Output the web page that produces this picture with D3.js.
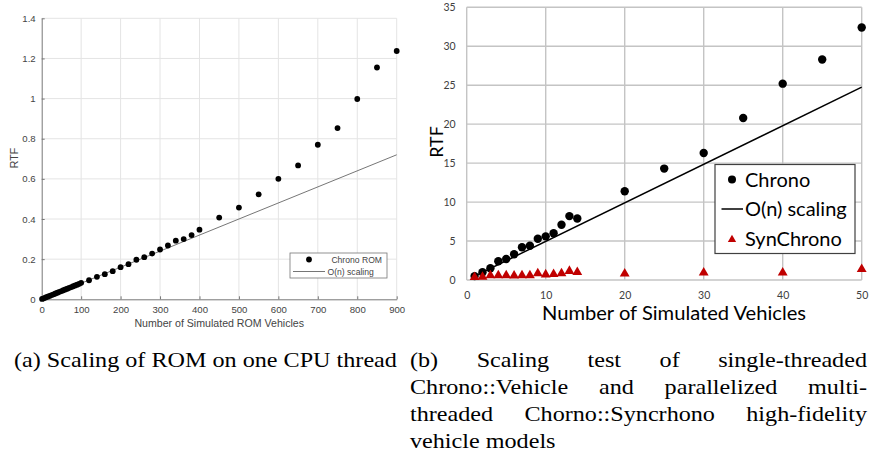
<!DOCTYPE html>
<html>
<head>
<meta charset="utf-8">
<style>
  body { margin: 0; background: #fff; }
  svg { display: block; }
</style>
<script src="https://cdn.jsdelivr.net/npm/d3@7"></script>
</head>
<body>
<script>

/* (a) ROM scaling on one CPU thread */
var romVehicles = [1, 5, 10, 15, 20, 25, 30, 35, 40, 45, 50, 55, 60, 65, 70, 75, 80, 85, 90, 95, 100,
                   120, 140, 160, 180, 200, 220, 240, 260, 280, 300, 320, 340, 360, 380, 400,
                   450, 500, 550, 600, 650, 700, 750, 800, 850, 900];
var romRtf = [0.002, 0.005, 0.009, 0.013, 0.017, 0.021, 0.025, 0.029, 0.033, 0.037, 0.041, 0.045, 0.049, 0.053, 0.057, 0.061, 0.065, 0.069, 0.073, 0.077, 0.082,
              0.095, 0.112, 0.125, 0.14, 0.16, 0.175, 0.197, 0.21, 0.228, 0.248, 0.268, 0.292, 0.30, 0.32, 0.347,
              0.407, 0.457, 0.523, 0.60, 0.667, 0.77, 0.853, 0.998, 1.155, 1.237];
var romScalingX = [0, 900];
var romScalingY = [0, 0.72];
var romXTicks = [0, 100, 200, 300, 400, 500, 600, 700, 800, 900];
var romYTicks = [0, 0.2, 0.4, 0.6, 0.8, 1, 1.2, 1.4];

/* (b) Chrono vs SynChrono */
var chronoVehicles = [1, 2, 3, 4, 5, 6, 7, 8, 9, 10, 11, 12, 13, 14, 20, 25, 30, 35, 40, 45, 50];
var chronoRtf = [0.5, 1.0, 1.5, 2.4, 2.7, 3.3, 4.2, 4.4, 5.3, 5.6, 6.0, 7.1, 8.2, 7.9, 11.4, 14.3, 16.3, 20.8, 25.2, 28.3, 32.4];
var synVehicles = [1, 2, 3, 4, 5, 6, 7, 8, 9, 10, 11, 12, 13, 14, 20, 30, 40, 50];
var synRtf = [0.35, 0.4, 0.6, 0.6, 0.6, 0.55, 0.6, 0.6, 0.85, 0.7, 0.75, 0.85, 1.15, 1.0, 0.8, 0.95, 0.95, 1.4];
var scalingX = [1, 50];
var scalingY = [0.5, 24.75];
var xTicks = [0, 10, 20, 30, 40, 50];
var yTicks = [0, 5, 10, 15, 20, 25, 30, 35];

var captionA = "(a) Scaling of ROM on one CPU thread";
var captionB = [
  ["(b)", "Scaling", "test", "of", "single-threaded"],
  ["Chrono::Vehicle", "and", "parallelized", "multi-"],
  ["threaded", "Chorno::Syncrhono", "high-fidelity"],
  ["vehicle", "models"]
];

var svg = d3.select("body").append("svg")
  .attr("width", 877)
  .attr("height", 458);

/* ---------- chart (a) ---------- */

var xa = d3.scaleLinear().domain([0, 900]).range([41.7, 396.7]);
var ya = d3.scaleLinear().domain([0, 1.4]).range([299.3, 18.3]);
var fontA = "Liberation Sans, Arial, sans-serif";

var ga = svg.append("g");

// grid
ga.append("g").selectAll("line").data(romXTicks.slice(1)).join("line")
  .attr("x1", d => xa(d)).attr("x2", d => xa(d))
  .attr("y1", ya(0)).attr("y2", ya(1.4))
  .style("stroke", "#e4e4e4").style("stroke-width", 1);
ga.append("g").selectAll("line").data(romYTicks.slice(1)).join("line")
  .attr("x1", xa(0)).attr("x2", xa(900))
  .attr("y1", d => ya(d)).attr("y2", d => ya(d))
  .style("stroke", "#e4e4e4").style("stroke-width", 1);

// axes
var axA_x = ga.append("g")
  .attr("transform", "translate(0," + ya(0) + ")")
  .call(d3.axisBottom(xa).tickValues(romXTicks).tickSizeInner(-3).tickSizeOuter(0).tickPadding(7));
var axA_y = ga.append("g")
  .attr("transform", "translate(" + xa(0) + ",0)")
  .call(d3.axisLeft(ya).tickValues(romYTicks).tickSizeInner(-3).tickSizeOuter(0).tickPadding(6).tickFormat(d3.format("")));
[axA_x, axA_y].forEach(function(a) {
  a.select(".domain").style("stroke", "#777");
  a.selectAll(".tick line").style("stroke", "#777");
  a.selectAll(".tick text").style("fill", "#444").style("font-family", fontA).style("font-size", "9.6px");
});

ga.append("text")
  .attr("x", (xa(0) + xa(900)) / 2).attr("y", 327)
  .attr("text-anchor", "middle")
  .style("font-family", fontA).style("font-size", "10.6px").style("fill", "#444")
  .text("Number of Simulated ROM Vehicles");
ga.append("text")
  .attr("transform", "translate(17.5,158) rotate(-90)")
  .attr("text-anchor", "middle")
  .style("font-family", fontA).style("font-size", "10.6px").style("fill", "#444")
  .text("RTF");

// O(n) line
ga.append("line")
  .attr("x1", xa(romScalingX[0])).attr("y1", ya(romScalingY[0]))
  .attr("x2", xa(romScalingX[1])).attr("y2", ya(romScalingY[1]))
  .style("stroke", "#666").style("stroke-width", 0.9);

// points
ga.append("g").selectAll("circle").data(romVehicles).join("circle")
  .attr("cx", d => xa(d))
  .attr("cy", (d, i) => ya(romRtf[i]))
  .attr("r", 2.9)
  .style("fill", "#000");

// legend
var legA = ga.append("g");
legA.append("rect")
  .attr("x", 290).attr("y", 253).attr("width", 97).attr("height", 25)
  .style("fill", "#fff").style("stroke", "#777").style("stroke-width", 0.8);
legA.append("circle").attr("cx", 309).attr("cy", 259.5).attr("r", 2.9).style("fill", "#000");
legA.append("line").attr("x1", 293).attr("x2", 325).attr("y1", 271.5).attr("y2", 271.5)
  .style("stroke", "#666").style("stroke-width", 0.9);
legA.append("text").attr("x", 382).attr("y", 262.5).attr("text-anchor", "end")
  .style("font-family", fontA).style("font-size", "8.6px").style("fill", "#444").text("Chrono ROM");
legA.append("text").attr("x", 327.5).attr("y", 274.5)
  .style("font-family", fontA).style("font-size", "8.6px").style("fill", "#444").text("O(n) scaling");

/* ---------- chart (b) ---------- */

var xb = d3.scaleLinear().domain([0, 50]).range([466.7, 861.7]);
var yb = d3.scaleLinear().domain([0, 35]).range([280, 7.3]);
var fontB = "Lato, 'Open Sans', sans-serif";

var gb = svg.append("g");

gb.append("g").selectAll("line").data(xTicks).join("line")
  .attr("x1", d => xb(d)).attr("x2", d => xb(d))
  .attr("y1", yb(0)).attr("y2", yb(35))
  .style("stroke", "#c4c4c4").style("stroke-width", 1.4);
gb.append("g").selectAll("line").data(yTicks).join("line")
  .attr("x1", xb(0)).attr("x2", xb(50))
  .attr("y1", d => yb(d)).attr("y2", d => yb(d))
  .style("stroke", "#c4c4c4").style("stroke-width", 1.4);

var axB_x = gb.append("g")
  .attr("transform", "translate(0," + yb(0) + ")")
  .call(d3.axisBottom(xb).tickValues(xTicks).tickSize(0).tickPadding(12));
var axB_y = gb.append("g")
  .attr("transform", "translate(" + xb(0) + ",0)")
  .call(d3.axisLeft(yb).tickValues(yTicks).tickSize(0).tickPadding(11));
[axB_x, axB_y].forEach(function(a) {
  a.select(".domain").remove();
  a.selectAll(".tick text").style("fill", "#404040").style("font-family", fontB).style("font-size", "10.5px");
});

gb.append("text")
  .attr("x", 542).attr("y", 320)
  .attr("textLength", 264).attr("lengthAdjust", "spacingAndGlyphs")
  .style("font-family", fontB).style("font-size", "18.5px").style("fill", "#000")
  .text("Number of Simulated Vehicles");
gb.append("text")
  .attr("transform", "translate(443,142) rotate(-90)")
  .attr("text-anchor", "middle")
  .style("font-family", fontB).style("font-size", "18px").style("fill", "#000")
  .text("RTF");

// O(n) line
gb.append("line")
  .attr("x1", xb(scalingX[0])).attr("y1", yb(scalingY[0]))
  .attr("x2", xb(scalingX[1])).attr("y2", yb(scalingY[1]))
  .style("stroke", "#000").style("stroke-width", 1.5);

// Chrono points
gb.append("g").selectAll("circle").data(chronoVehicles).join("circle")
  .attr("cx", d => xb(d))
  .attr("cy", (d, i) => yb(chronoRtf[i]))
  .attr("r", 4.2)
  .style("fill", "#000");

// SynChrono triangles
var tri = d3.symbol(d3.symbolTriangle, 42);
gb.append("g").selectAll("path").data(synVehicles).join("path")
  .attr("transform", (d, i) => "translate(" + xb(d) + "," + yb(synRtf[i]) + ")")
  .attr("d", tri)
  .style("fill", "#c00000");

// legend
var legB = gb.append("g");
legB.append("rect")
  .attr("x", 715).attr("y", 164.5).attr("width", 140).attr("height", 89)
  .style("fill", "#fff").style("stroke", "#404040").style("stroke-width", 1.2);
legB.append("circle").attr("cx", 732).attr("cy", 179.5).attr("r", 4).style("fill", "#000");
legB.append("line").attr("x1", 721.5).attr("x2", 743).attr("y1", 209).attr("y2", 209)
  .style("stroke", "#000").style("stroke-width", 1.5);
legB.append("path").attr("transform", "translate(732,239.5)").attr("d", d3.symbol(d3.symbolTriangle, 30)).style("fill", "#c00000");
[["Chrono", 186.5], ["O(n) scaling", 216], ["SynChrono", 246]].forEach(function(e) {
  legB.append("text").attr("x", 745).attr("y", e[1])
    .style("font-family", fontB).style("font-size", "20px").style("fill", "#000")
    .text(e[0]);
});

/* ---------- captions ---------- */

var capFont = "Liberation Serif, 'Times New Roman', serif";
var capSize = 22;

// caption (a): stretch to its measured width in the reference
var capA = svg.append("g");
var capAText = capA.append("text")
  .style("font-family", capFont).style("font-size", capSize + "px").style("fill", "#000")
  .attr("xml:space", "preserve")
  .text(captionA);
var sx = 383 / capAText.node().getComputedTextLength();
capA.attr("transform", "translate(14,367) scale(" + sx + ",1)");

// caption (b): justified lines, last line left aligned
var capBX = 410, capBW = 457, capBY = [367, 394, 421, 448];
captionB.forEach(function(words, li) {
  var g = svg.append("g").attr("transform", "translate(" + capBX + "," + capBY[li] + ") scale(" + sx + ",1)");
  var t = g.selectAll("text").data(words).join("text")
    .style("font-family", capFont).style("font-size", capSize + "px").style("fill", "#000")
    .text(d => d);
  var widths = [];
  t.each(function() { widths.push(this.getComputedTextLength()); });
  var total = d3.sum(widths);
  var localW = capBW / sx;
  var last = li === captionB.length - 1;
  var gap = last ? capSize * 0.25 : (localW - total) / (words.length - 1);
  var x = 0;
  t.attr("x", function(d, i) { var p = x; x += widths[i] + gap; return p; });
});

</script>
</body>
</html>
